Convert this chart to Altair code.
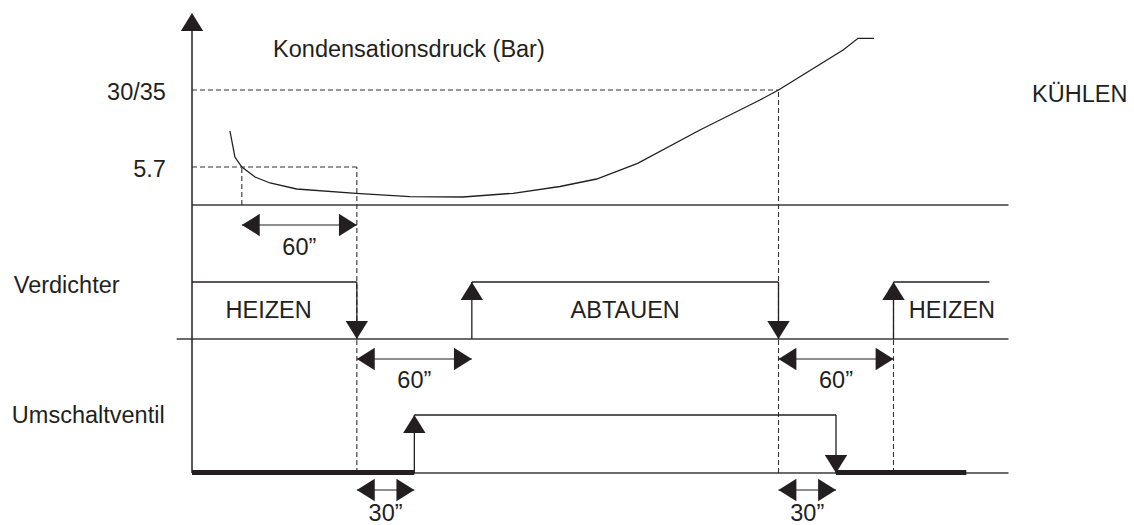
import altair as alt
import pandas as pd

# ---------------- data (schematic timing diagram) ----------------
# event times in seconds
T_CROSS = 26        # condensing pressure falls below 5.7 bar
T_COMP_OFF1 = 86    # compressor off (+60")
T_VALVE_ON = 116    # reversing valve switches (+30")
T_COMP_ON1 = 146    # compressor on -> defrost (+60")
T_COMP_OFF2 = 306   # pressure reaches 30/35 bar
T_VALVE_OFF = 336   # reversing valve back (+30")
T_COMP_ON2 = 366    # compressor on -> heating (+60")
T_HEAT_END = 416
T_VALVE_END = 404
T_END = 426

# condensing pressure curve (schematic level above lane baseline)
pressure_t = [19.8, 22.4, 26, 32.9, 40.7, 54.6, 85.6, 113.7, 141.4, 167.5,
              192, 211.1, 232.5, 265, 296.3, 306, 339.7, 347.5, 355.8]
pressure_level = [74, 48, 38, 28, 22, 16, 11.7, 8.3, 8, 11.7,
                  18.5, 26, 41.7, 75, 105, 115, 155, 166.7, 166.7]

threshold_labels = ["30/35", "5.7"]
threshold_levels = [115, 38]

comp_on_start = [0, T_COMP_ON1, T_COMP_ON2]
comp_on_end = [T_COMP_OFF1, T_COMP_OFF2, T_HEAT_END]
comp_states = ["HEIZEN", "ABTAUEN", "HEIZEN"]

valve_on_start = [T_VALVE_ON]
valve_on_end = [T_VALVE_OFF]
valve_off_start = [0, T_VALVE_OFF]
valve_off_end = [T_VALVE_ON, T_VALVE_END]

delay_start = [T_CROSS, T_COMP_OFF1, T_COMP_OFF2, T_COMP_OFF1, T_COMP_OFF2]
delay_end = [T_COMP_OFF1, T_COMP_ON1, T_COMP_ON2, T_VALVE_ON, T_VALVE_OFF]
delay_labels = ["60\u201d", "60\u201d", "60\u201d", "30\u201d", "30\u201d"]

# ---------------- layout ----------------
FONT = "Liberation Sans"
FS = 23.5
INK = "#231f20"
W, H = 1118, 517
K = 115 / 60.0
XD = [-96.0, -96.0 + W / K]
YD = [-52, 465]

PRESS_BASE = 268
COMP_LOW, COMP_HIGH = 134, 191
VALVE_LOW, VALVE_HIGH = 0, 58
AXIS_TOP = 460
DIM_V = [248, 114, 114, -17, -17]
DIM_LABEL_V = [218, 85, 85, -48, -48]
HEAD_SIZE = 500

xs = alt.Scale(domain=XD, nice=False, zero=False)
ys = alt.Scale(domain=YD, nice=False, zero=False)


def X(f):
    return alt.X(f, type="quantitative", scale=xs, axis=None)


def Y(f):
    return alt.Y(f, type="quantitative", scale=ys, axis=None)


def hseg(rows, **mk):
    df = pd.DataFrame(rows, columns=["a", "b", "v"])
    return alt.Chart(df).mark_rule(**mk).encode(x=X("a"), x2=alt.X2("b"), y=Y("v"))


def vseg(rows, **mk):
    df = pd.DataFrame(rows, columns=["t", "a", "b"])
    return alt.Chart(df).mark_rule(**mk).encode(x=X("t"), y=Y("a"), y2=alt.Y2("b"))


def heads(rows, shape):
    df = pd.DataFrame(rows, columns=["t", "v"])
    return alt.Chart(df).mark_point(shape=shape, size=HEAD_SIZE, filled=True, opacity=1,
                                    color=INK, strokeWidth=0).encode(x=X("t"), y=Y("v"))


def texts(rows, align="left"):
    df = pd.DataFrame(rows, columns=["t", "v", "s"])
    return alt.Chart(df).mark_text(align=align, baseline="alphabetic", font=FONT,
                                   fontSize=FS, color=INK).encode(x=X("t"), y=Y("v"), text="s:N")


UP = "M0,0L-1,1.6L1,1.6Z"
DOWN = "M0,0L-1,-1.6L1,-1.6Z"
LEFT = "M0,0L1.6,-1L1.6,1Z"
RIGHT = "M0,0L-1.6,-1L-1.6,1Z"

solid = dict(color=INK, strokeWidth=1.3)
base = dict(color="#3a3a3a", strokeWidth=1.3)
dash = dict(color="#333333", strokeWidth=1.1, strokeDash=[5, 3])

layers = []

# baselines
layers.append(hseg([(0, T_END, PRESS_BASE), (-8, T_END, COMP_LOW), (0, T_END, VALVE_LOW)], **base))
# y axis
layers.append(vseg([(0, VALVE_LOW, AXIS_TOP - 8)], color=INK, strokeWidth=1.5))
layers.append(heads([(0, AXIS_TOP)], UP))

# dashed helper lines
thr_v = [PRESS_BASE + l for l in threshold_levels]
layers.append(hseg([(0, T_COMP_OFF2, thr_v[0]), (0, T_COMP_OFF1, thr_v[1])], **dash))
layers.append(vseg([(T_CROSS, PRESS_BASE, thr_v[1]),
                    (T_COMP_OFF1, VALVE_LOW, thr_v[1]),
                    (T_COMP_OFF2, VALVE_LOW, thr_v[0]),
                    (T_COMP_ON2, VALVE_LOW, COMP_HIGH)], **dash))

# pressure curve
pdf = pd.DataFrame({"t": pressure_t, "v": [PRESS_BASE + l for l in pressure_level],
                    "o": list(range(len(pressure_t)))})
layers.append(alt.Chart(pdf).mark_line(color=INK, strokeWidth=1.3).encode(
    x=X("t"), y=Y("v"), order="o:Q"))

# compressor signal
layers.append(hseg([(a, b, COMP_HIGH) for a, b in zip(comp_on_start, comp_on_end)], **solid))
layers.append(vseg([(t, COMP_LOW, COMP_HIGH) for t in [T_COMP_OFF1, T_COMP_ON1, T_COMP_OFF2, T_COMP_ON2]], **solid))
layers.append(heads([(T_COMP_ON1, COMP_HIGH), (T_COMP_ON2, COMP_HIGH)], UP))
layers.append(heads([(T_COMP_OFF1, COMP_LOW), (T_COMP_OFF2, COMP_LOW)], DOWN))

# reversing valve signal
layers.append(hseg([(a, b, VALVE_HIGH) for a, b in zip(valve_on_start, valve_on_end)], **solid))
layers.append(hseg([(a, b, VALVE_LOW + 0.5) for a, b in zip(valve_off_start, valve_off_end)],
                   color=INK, strokeWidth=5, strokeCap="butt"))
layers.append(vseg([(T_VALVE_ON, VALVE_LOW, VALVE_HIGH), (T_VALVE_OFF, VALVE_LOW, VALVE_HIGH)], **solid))
layers.append(heads([(T_VALVE_ON, VALVE_HIGH)], UP))
layers.append(heads([(T_VALVE_OFF, VALVE_LOW)], DOWN))

# delay dimension arrows
layers.append(hseg([(a, b, v) for a, b, v in zip(delay_start, delay_end, DIM_V)], color=INK, strokeWidth=1.2))
layers.append(heads([(a, v) for a, v in zip(delay_start, DIM_V)], LEFT))
layers.append(heads([(b, v) for b, v in zip(delay_end, DIM_V)], RIGHT))
layers.append(texts([((a + b) / 2, v, s) for a, b, v, s in zip(delay_start, delay_end, DIM_LABEL_V, delay_labels)],
                    align="center"))

# state labels
state_t = [(a + b) / 2 for a, b in zip(comp_on_start, comp_on_end)]
state_t[0] = 40
state_t[2] = 396.5
layers.append(texts([(t, 155, s) for t, s in zip(state_t, comp_states)], align="center"))

# threshold labels
layers.append(texts([(-13.6, v - 9.5, s) for v, s in zip(thr_v, threshold_labels)], align="right"))

# lane / title labels
layers.append(texts([(42.3, 416, "Kondensationsdruck (Bar)"),
                     (438.3, 371, "K\u00dcHLEN"),
                     (-93, 180, "Verdichter"),
                     (-94, 50, "Umschaltventil")]))

chart = alt.layer(*layers).properties(
    width=W, height=H, padding=0,
    autosize=alt.AutoSizeParams(type="none"),
    background="white",
).configure_view(stroke=None)

chart.save("out.html", embed_options={"renderer": "svg", "actions": False})
